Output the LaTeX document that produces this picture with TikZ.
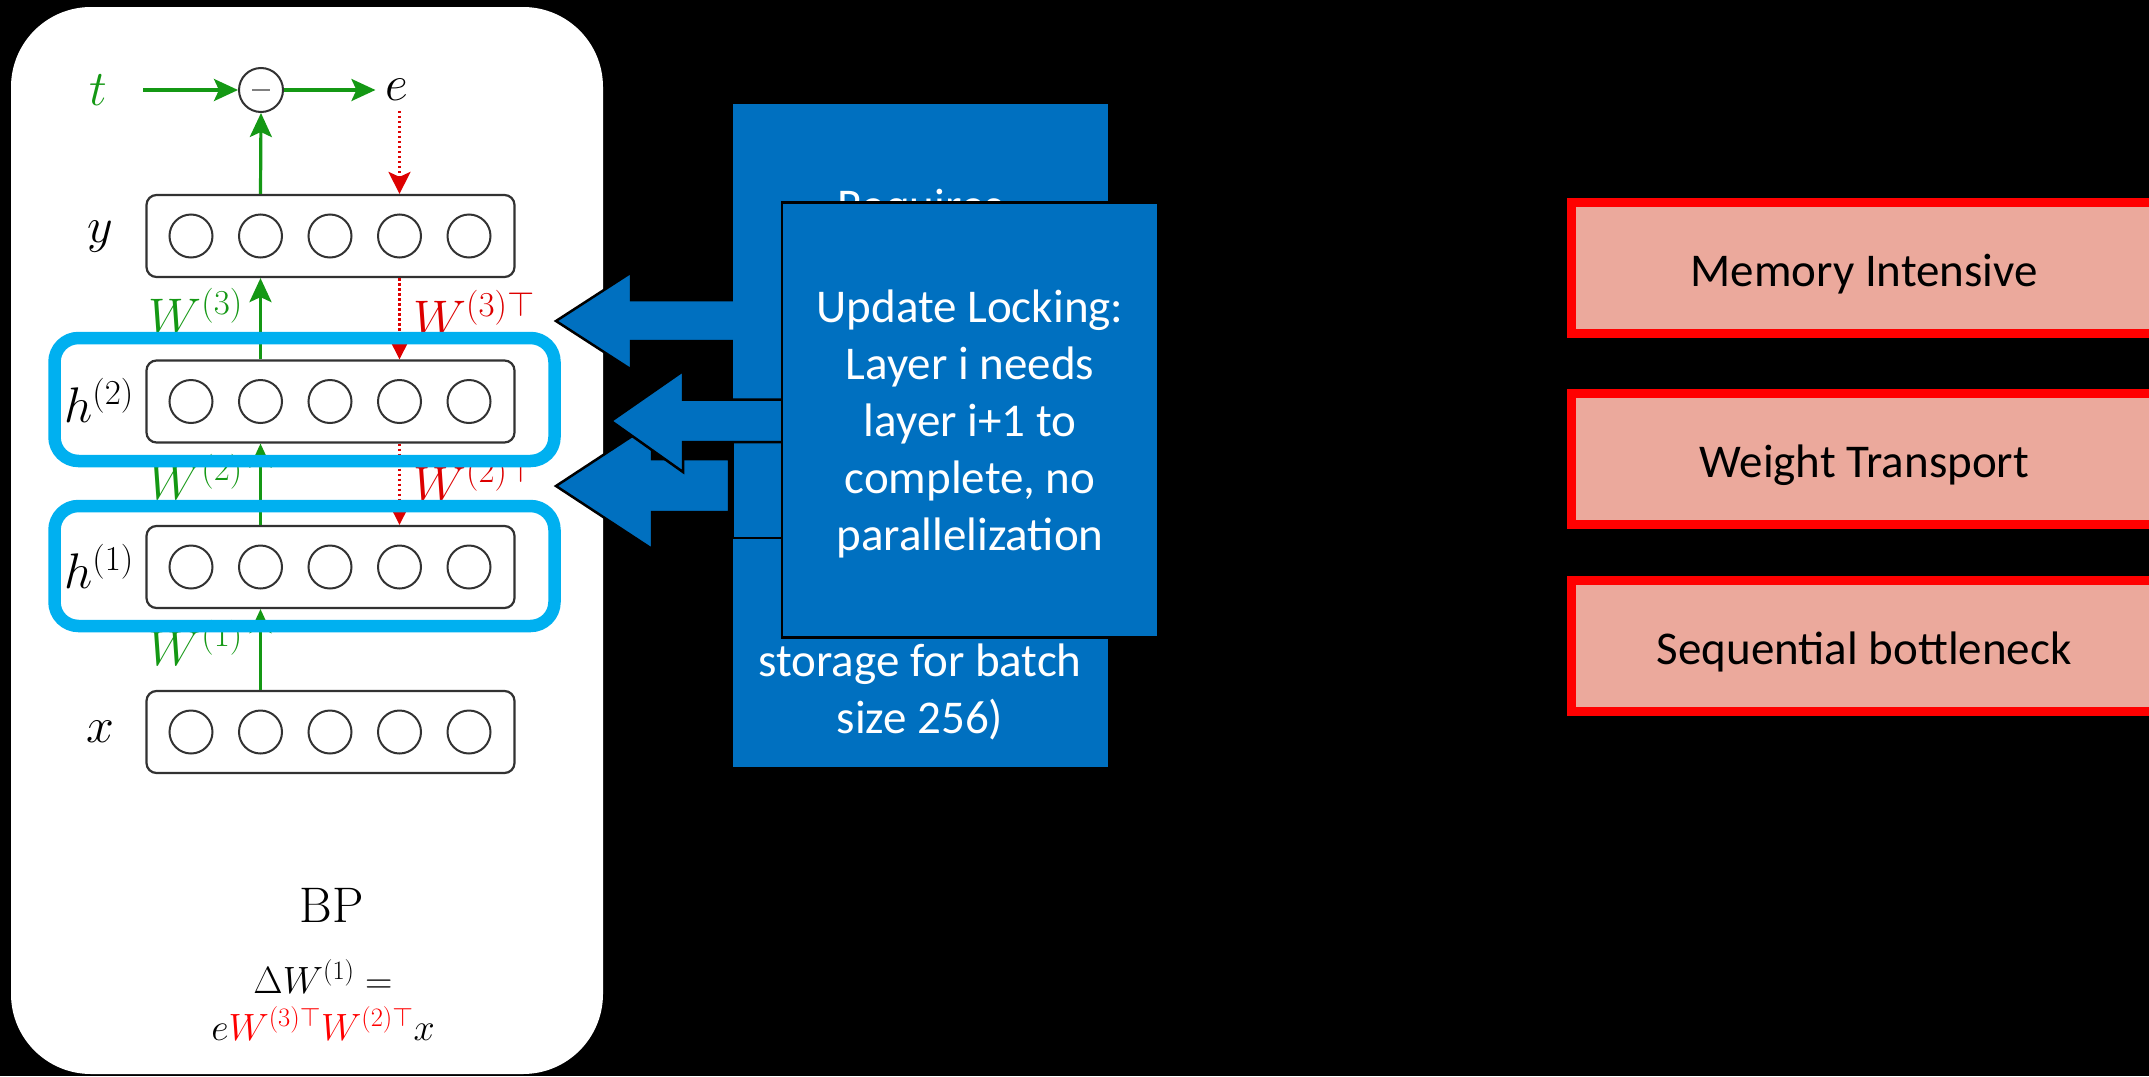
\RequirePackage{fix-cm}
\documentclass[tikz,border=0pt]{standalone}
\usepackage{fontspec}
\newfontfamily\calib{Carlito}
\usetikzlibrary{arrows.meta}

\definecolor{pblue}{RGB}{0,112,192}
\definecolor{pcyan}{RGB}{0,176,240}
\definecolor{psalmon}{RGB}{235,169,156}
\definecolor{pred}{RGB}{255,0,0}
\definecolor{fgreen}{RGB}{20,152,20}
\definecolor{fred}{RGB}{221,0,0}
\definecolor{lgray}{RGB}{50,50,50}

\begin{document}
\begin{tikzpicture}[x=1pt,y=-1pt,
  layerbox/.style={draw=lgray, line width=2.2pt, rounded corners=10pt,
    minimum width=368pt, minimum height=82pt, inner sep=0pt},
  unit/.style={circle, draw=lgray, line width=2pt, minimum size=43pt, inner sep=0pt},
  mlabel/.style={font=\fontsize{50}{60}\selectfont, inner sep=0pt},
  garrow/.style={draw=fgreen, line width=3.2pt,
    -{Stealth[length=24pt,width=22pt,inset=5pt]}},
  rarrow/.style={draw=fred, line width=3pt, dash pattern=on 2.5pt off 2.5pt,
    -{Stealth[length=22pt,width=22pt,inset=5pt]}},
  hilite/.style={draw=pcyan, line width=12.5pt, rounded corners=24pt,
    minimum width=500pt, inner sep=0pt},
  blockarrow/.style={fill=pblue, draw=black, line width=2.5pt, line join=miter},
  calltext/.style={text=white, font=\calib\fontsize{47}{57}\selectfont,
    inner sep=0pt, anchor=base},
  issue/.style={draw=pred, fill=psalmon, line width=9pt, minimum width=585.5pt,
    minimum height=131pt, inner sep=0pt, text height=36pt, text depth=0pt,
    font=\calib\fontsize{47}{57}\selectfont}]

% canvas
\fill[black] (0,0) rectangle (2149,1076);
\useasboundingbox (0,0) rectangle (2149,1076);

% white panel holding the network
\fill[white, rounded corners=80pt] (11,7) rectangle (603,1074);

% layers of units
\foreach \nm/\cy in {ylay/236, hb/401.5, ha/567, xlay/732} {
  \node[layerbox] (\nm) at (330.5,\cy) {};
  \foreach \i in {0,...,4}
    \node[unit] (\nm\i) at (191+69.5*\i,\cy) {};
}

% layer names
\node[mlabel] (ly)  at (100,237)   {$y$};
\node[mlabel] (lh2) at (99,400) {$h^{(2)}$};
\node[mlabel] (lh1) at (99,566)   {$h^{(1)}$};
\node[mlabel] (lx)  at (100,732)   {$x$};

% target, difference and error
\node[mlabel, text=fgreen] (t) at (98,90) {$t$};
\node[circle, draw=lgray, line width=2pt, minimum size=44pt, inner sep=0pt] (minus) at (261,90) {};
\draw[gray, line width=1.6pt] ([xshift=-9pt]minus.center) -- ([xshift=9pt]minus.center);
\node[mlabel] (e) at (397,90) {$e$};

% forward pass
\draw[garrow, shorten <=36pt] (t) -- (minus);
\draw[garrow, shorten >=10pt] (minus) -- (e);
\draw[garrow] (ylay1 |- ylay.north) -- (minus.south);
\draw[garrow] (hb1 |- hb.north) -- (ylay1 |- ylay.south);
\draw[garrow] (ha1 |- ha.north) -- (hb1 |- hb.south);
\draw[garrow] (xlay1 |- xlay.north) -- (ha1 |- ha.south);

% backward pass
\draw[rarrow, shorten <=10pt] (ylay3 |- e.south) -- (ylay3 |- ylay.north);
\draw[rarrow] (ylay3 |- ylay.south) -- (hb3 |- hb.north);
\draw[rarrow] (hb3 |- hb.south) -- (ha3 |- ha.north);

% weights
\node[mlabel, text=fgreen, anchor=base east] (w3)  at (243,333) {$W^{(3)}$};
\node[mlabel, text=fred,   anchor=base west] (w3t) at (413,335) {$W^{(3)\top}$};
\node[mlabel, text=fgreen, anchor=base east] (w2)  at (243,499) {$W^{(2)}$};
\node[mlabel, text=fred,   anchor=base west] (w2t) at (413,501) {$W^{(2)\top}$};
\node[mlabel, text=fgreen, anchor=base east] (w1)  at (243,665) {$W^{(1)}$};

% highlighted hidden layers
\node[hilite, minimum height=123pt] (sel2) at (304.5,399.5) {};
\node[hilite, minimum height=120pt] (sel1) at (304.5,566) {};

% caption and update rule
\node[font=\fontsize{50}{60}\selectfont, anchor=base, inner sep=0pt] (bp) at (332,922) {BP};
\node[font=\fontsize{38}{46}\selectfont, anchor=base, inner sep=0pt] (dw) at (323,993) {$\Delta W^{(1)} =$};
\node[font=\fontsize{38}{46}\selectfont, anchor=base, inner sep=0pt] (upd) at (323,1040)
  {$e{\color{pred}W^{(3)\top}W^{(2)\top}}x$};

% upper block arrow, tucked under the memory box
\filldraw[blockarrow] (556,321) -- (631,272.5) -- (631,300) -- (760,300)
  -- (760,341) -- (631,341) -- (631,369.5) -- cycle;

% memory box
\node[fill=pblue, minimum width=375pt, minimum height=663pt, inner sep=0pt] (mem) at (920.5,435.5) {};
\node[calltext] (m1) at (920,221) {Requires};
\node[calltext] (m2) at (920,676) {storage for batch};
\node[calltext] (m3) at (920,733) {size 256)};

% lower block arrows
\filldraw[blockarrow] (556,486) -- (652,423) -- (652,459) -- (729,459)
  -- (729,512) -- (652,512) -- (652,549) -- cycle;
\filldraw[fill=pblue, draw=black, line width=2.5pt] (733,442) rectangle (800,538);
\filldraw[blockarrow] (611,421) -- (683,371) -- (683,399.5) -- (800,399.5)
  -- (800,442) -- (683,442) -- (683,472) -- cycle;

% update locking box
\node[fill=pblue, draw=black, line width=2.5pt, minimum width=376pt,
  minimum height=435pt, inner sep=0pt] (lock) at (970,420) {};
\foreach \txt/\by [count=\k] in {{Update Locking:}/322, {Layer i needs}/379,
    {layer i+1 to}/436, {complete, no}/493, {parallelization}/550}
  \node[calltext] (lock\k) at (970,\by) {\txt};

% issues
\node[issue] (memint) at (1864.25,268) {Memory Intensive};
\node[issue] (wtrans) at (1864.25,459) {Weight Transport};
\node[issue] (seqbn)  at (1864.25,646) {Sequential bottleneck};

\end{tikzpicture}
\end{document}
